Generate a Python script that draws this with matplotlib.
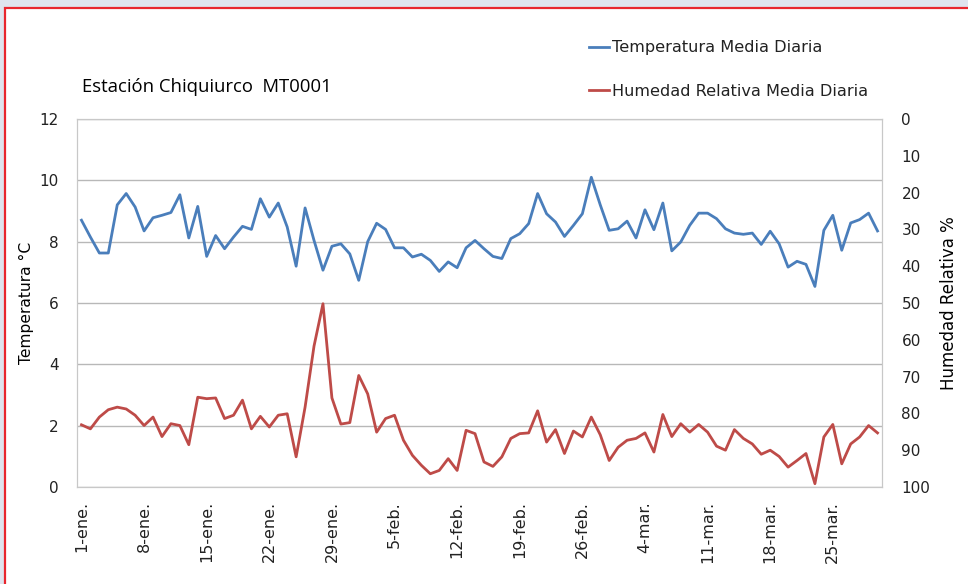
import matplotlib.pyplot as plt
import matplotlib.patches as mpatches
import pandas as pd

# daily means, 1-ene to 30-mar (2012)
temperatura = [8.70, 8.15, 7.63, 7.63, 9.20, 9.57, 9.13, 8.35, 8.78, 8.86,
               8.95, 9.53, 8.12, 9.15, 7.52, 8.20, 7.77, 8.15, 8.50, 8.40,
               9.40, 8.80, 9.26, 8.48, 7.20, 9.10, 8.04, 7.07, 7.85, 7.93,
               7.60, 6.74, 8.00, 8.60, 8.40, 7.80, 7.80, 7.50, 7.59, 7.39,
               7.03, 7.34, 7.15, 7.80, 8.04, 7.77, 7.52, 7.45, 8.10, 8.26,
               8.59, 9.57, 8.91, 8.64, 8.17, 8.53, 8.91, 10.10, 9.20, 8.37,
               8.42, 8.67, 8.12, 9.04, 8.39, 9.26, 7.70, 7.99, 8.53, 8.93,
               8.93, 8.75, 8.42, 8.28, 8.24, 8.28, 7.91, 8.34, 7.93, 7.17,
               7.36, 7.26, 6.54, 8.37, 8.86, 7.72, 8.61, 8.72, 8.93, 8.35]

humedad = [83.1, 84.2, 81.0, 79.0, 78.3, 78.8, 80.5, 83.3, 81.0, 86.3,
           82.8, 83.3, 88.5, 75.6, 76.0, 75.8, 81.4, 80.5, 76.4, 84.2,
           80.8, 83.7, 80.5, 80.1, 91.8, 78.3, 61.7, 50.2, 75.8, 82.9,
           82.5, 69.7, 74.7, 85.1, 81.4, 80.5, 87.3, 91.4, 94.1, 96.4,
           95.5, 92.3, 95.5, 84.6, 85.5, 93.2, 94.4, 91.8, 86.8, 85.5,
           85.3, 79.3, 87.8, 84.4, 90.9, 84.8, 86.4, 81.0, 85.8, 92.8,
           89.2, 87.3, 86.8, 85.3, 90.5, 80.3, 86.3, 82.8, 85.1, 83.0,
           85.1, 88.9, 90.0, 84.4, 86.8, 88.3, 91.1, 90.0, 91.7, 94.6,
           92.8, 90.9, 99.1, 86.4, 83.0, 93.7, 88.3, 86.4, 83.3, 85.3]

fechas = pd.date_range('2012-01-01', periods=len(temperatura), freq='D')
meses = {1: 'ene', 2: 'feb', 3: 'mar'}

azul = '#4a7ebb'
rojo = '#be4b48'

fig = plt.figure(figsize=(9.68, 5.84), dpi=100)
fig.patch.set_facecolor('#dfe4ee')
# white chart area with the red frame
fig.patches.append(mpatches.Rectangle((5 / 968, -0.05), 1.0, 1 - 8 / 584 + 0.05,
                                      transform=fig.transFigure, facecolor='white',
                                      edgecolor='#e8262e', linewidth=1.6, zorder=-10))

ax = fig.add_axes([77 / 968, 1 - 487 / 584, (882 - 77) / 968, (487 - 119) / 584])
x = list(range(len(fechas)))
l1, = ax.plot(x, temperatura, color=azul, linewidth=2.0, label='Temperatura Media Diaria')
ax.set_ylim(0, 12)
ax.set_yticks(range(0, 13, 2))
ax.set_xlim(-0.5, len(fechas) - 0.5)
ticks = x[::7]
ax.set_xticks(ticks)
ax.set_xticklabels(['{}-{}.'.format(fechas[i].day, meses[fechas[i].month]) for i in ticks],
                   rotation=90, fontsize=11.5, color='#222222')
ax.grid(axis='y', color='#b8b8b8', linewidth=1.0)
ax.set_axisbelow(True)
ax.tick_params(axis='x', length=0, pad=10)
ax.tick_params(axis='y', length=0, pad=13, labelsize=11, colors='#222222')
for s in ax.spines.values():
    s.set_color('#c8c8c8')
ax.set_ylabel('Temperatura °C', fontsize=11.2, color='black', labelpad=4)

ax2 = ax.twinx()
l2, = ax2.plot(x, humedad, color=rojo, linewidth=2.0, label='Humedad Relativa Media Diaria')
ax2.set_ylim(100, 0)
ax2.set_yticks(range(0, 101, 10))
ax2.tick_params(length=0, pad=14, labelsize=11, colors='#222222')
for s in ax2.spines.values():
    s.set_color('#c8c8c8')
ax2.set_ylabel('Humedad Relativa %', fontsize=12, color='black', labelpad=7)

leg = fig.legend(handles=[l1, l2], loc='upper left', bbox_to_anchor=(583 / 968, 1 - 34 / 584),
                 frameon=False, fontsize=11.6, handlelength=1.2, handletextpad=0.2,
                 labelspacing=1.75, borderaxespad=0)
for t in leg.get_texts():
    t.set_color('#222222')
    t.set_family(['Liberation Sans Narrow', 'DejaVu Sans'])

fig.text(82 / 968, 1 - 87 / 584, 'Estación Chiquiurco  MT0001', fontsize=13.3,
         va='center', ha='left', color='black', family=['Open Sans', 'DejaVu Sans'])

fig.savefig('out.png', dpi=100, facecolor=fig.get_facecolor())
